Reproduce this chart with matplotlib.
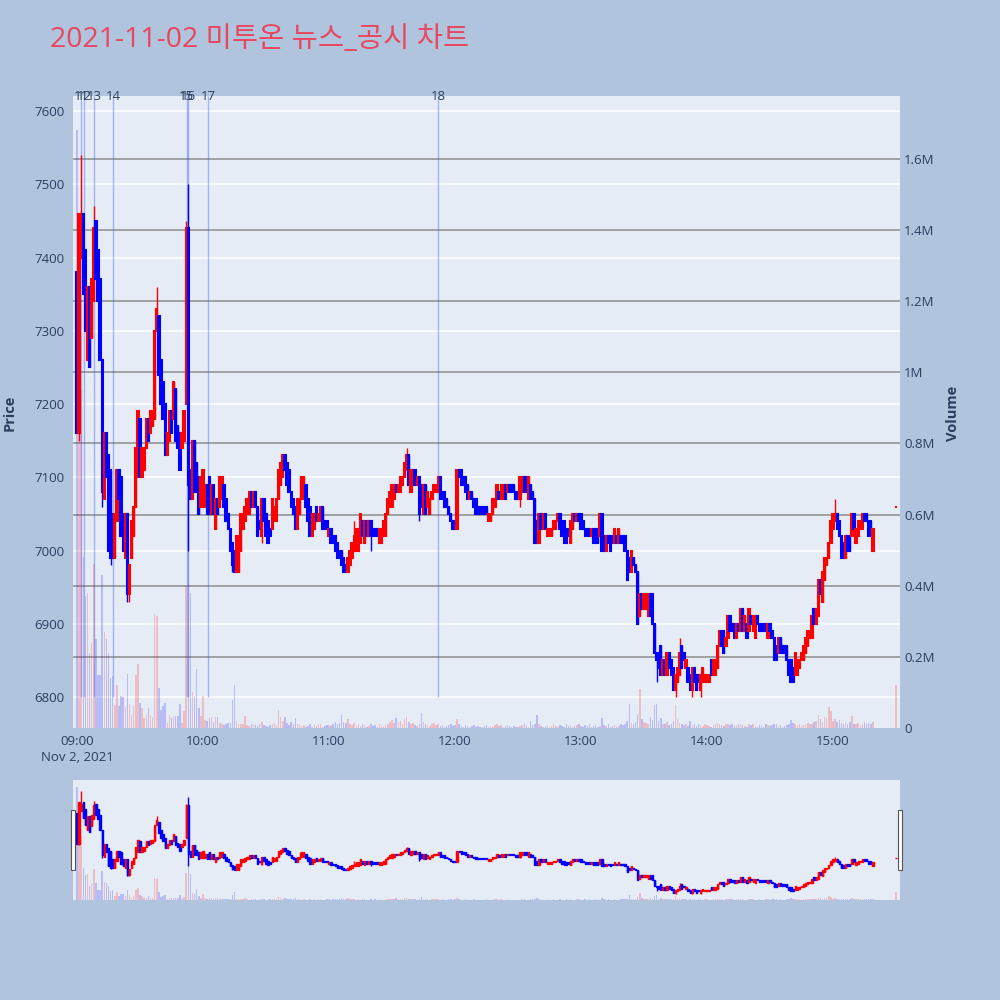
import numpy as np
import matplotlib
matplotlib.use('Agg')
import matplotlib.pyplot as plt
from matplotlib.patches import Rectangle
from matplotlib.transforms import blended_transform_factory

plt.rcParams['font.family'] = ['Open Sans', 'Noto Sans CJK KR', 'DejaVu Sans']

title = '2021-11-02 미투온 뉴스_공시 차트'

# 1-minute candles from 09:00 (one row = 10 minutes)
opens = [
    7380, 7160, 7400, 7460, 7410, 7260, 7360, 7290, 7340, 7450,
    7410, 7370, 7260, 7070, 7160, 7130, 7110, 7050, 6990, 7040,
    7110, 7100, 7050, 6990, 7050, 6940, 6990, 7020, 7060, 7100,
    7180, 7100, 7110, 7140, 7180, 7160, 7170, 7180, 7300, 7320,
    7260, 7230, 7200, 7130, 7150, 7190, 7180, 7220, 7170, 7160,
    7140, 7150, 7200, 7440, 7110, 7070, 7150, 7120, 7100, 7060,
    7060, 7060, 7090, 7100, 7050, 7090, 7030, 7070, 7060, 7070,
    7090, 7070, 7050, 7030, 7010, 7000, 6970, 6970, 7000, 7030,
    7040, 7050, 7050, 7080, 7060, 7080, 7060, 7040, 7020, 7070,
    7050, 7040, 7030, 7030, 7040, 7040, 7070, 7090, 7100, 7130,
    7120, 7110, 7080, 7070, 7060, 7030, 7050, 7070, 7070, 7090,
    7070, 7060, 7020, 7030, 7060, 7040, 7040, 7060, 7040, 7040,
    7020, 7030, 7020, 7020, 7010, 7000, 7000, 6990, 6980, 6970,
    6980, 6990, 7000, 7000, 7000, 7010, 7040, 7010, 7040, 7020,
    7040, 7030, 7030, 7030, 7010, 7010, 7020, 7020, 7050, 7060,
    7060, 7070, 7090, 7080, 7080, 7090, 7100, 7110, 7130, 7080,
    7090, 7110, 7090, 7100, 7090, 7050, 7090, 7060, 7050, 7070,
    7080, 7080, 7080, 7100, 7080, 7080, 7070, 7060, 7050, 7040,
    7040, 7030, 7110, 7110, 7100, 7100, 7090, 7070, 7080, 7070,
    7070, 7060, 7060, 7060, 7060, 7060, 7040, 7040, 7050, 7060,
    7070, 7080, 7070, 7070, 7090, 7080, 7090, 7090, 7090, 7080,
    7080, 7070, 7080, 7100, 7100, 7070, 7090, 7080, 7070, 7040,
    7010, 7050, 7030, 7050, 7020, 7020, 7020, 7030, 7030, 7040,
    7050, 7040, 7040, 7030, 7030, 7010, 7030, 7050, 7040, 7050,
    7050, 7040, 7030, 7030, 7030, 7020, 7030, 7030, 7030, 7020,
    7050, 7020, 7000, 7020, 7020, 7020, 7010, 7020, 7010, 7020,
    7020, 7020, 7000, 6990, 6970, 6990, 6980, 6970, 6910, 6940,
    6920, 6920, 6910, 6940, 6940, 6900, 6860, 6860, 6870, 6830,
    6850, 6830, 6860, 6850, 6840, 6810, 6820, 6830, 6870, 6860,
    6840, 6840, 6830, 6810, 6840, 6830, 6830, 6810, 6820, 6820,
    6820, 6820, 6850, 6830, 6830, 6840, 6870, 6890, 6890, 6870,
    6880, 6910, 6900, 6900, 6880, 6900, 6890, 6920, 6890, 6900,
    6890, 6910, 6890, 6880, 6910, 6900, 6900, 6900, 6900, 6880,
    6900, 6890, 6880, 6870, 6860, 6880, 6870, 6870, 6870, 6850,
    6850, 6840, 6830, 6830, 6840, 6850, 6850, 6860, 6870, 6880,
    6880, 6920, 6900, 6910, 6960, 6930, 6960, 6980, 6990, 7010,
    7030, 7040, 7050, 7040, 7020, 7010, 6990, 7020, 7020, 7020,
    7050, 7010, 7020, 7030, 7030, 7050, 7050, 7040, 7040, 7000,
]
closes = [
    7160, 7460, 7450, 7350, 7300, 7360, 7250, 7370, 7440, 7370,
    7340, 7260, 7080, 7160, 7100, 7000, 6990, 6990, 7050, 7110,
    7070, 7020, 7000, 7050, 6940, 6980, 7040, 7060, 7140, 7190,
    7100, 7140, 7140, 7180, 7150, 7190, 7190, 7300, 7330, 7240,
    7200, 7180, 7130, 7160, 7190, 7160, 7230, 7150, 7140, 7110,
    7160, 7190, 7440, 7090, 7070, 7150, 7080, 7080, 7050, 7100,
    7110, 7090, 7050, 7050, 7090, 7050, 7070, 7050, 7100, 7100,
    7060, 7040, 7030, 7000, 6980, 6970, 7020, 7020, 7050, 7050,
    7060, 7070, 7080, 7060, 7080, 7060, 7020, 7030, 7070, 7040,
    7020, 7010, 7020, 7070, 7060, 7070, 7110, 7120, 7130, 7110,
    7090, 7080, 7060, 7050, 7030, 7070, 7070, 7100, 7100, 7060,
    7040, 7020, 7050, 7050, 7040, 7050, 7060, 7030, 7030, 7030,
    7030, 7010, 7010, 7000, 6990, 6990, 6980, 6970, 6970, 6990,
    7000, 7010, 7020, 7030, 7030, 7050, 7020, 7040, 7020, 7040,
    7020, 7020, 7020, 7020, 7030, 7030, 7040, 7050, 7070, 7080,
    7090, 7090, 7080, 7090, 7100, 7100, 7120, 7130, 7090, 7110,
    7110, 7090, 7100, 7050, 7060, 7090, 7050, 7080, 7070, 7080,
    7090, 7090, 7100, 7070, 7070, 7060, 7060, 7050, 7040, 7030,
    7030, 7110, 7100, 7090, 7090, 7080, 7070, 7080, 7070, 7060,
    7050, 7050, 7050, 7050, 7050, 7050, 7050, 7050, 7070, 7070,
    7090, 7070, 7090, 7090, 7070, 7090, 7080, 7080, 7080, 7070,
    7070, 7100, 7100, 7080, 7080, 7100, 7070, 7070, 7010, 7010,
    7050, 7030, 7050, 7030, 7030, 7030, 7030, 7040, 7040, 7050,
    7030, 7020, 7010, 7010, 7020, 7040, 7050, 7040, 7050, 7040,
    7030, 7030, 7020, 7020, 7020, 7030, 7010, 7010, 7010, 7050,
    7000, 7000, 7020, 7010, 7000, 7010, 7030, 7010, 7030, 7010,
    7010, 7000, 6960, 6970, 7000, 6980, 6970, 6900, 6940, 6920,
    6940, 6940, 6940, 6910, 6900, 6860, 6850, 6840, 6830, 6850,
    6830, 6860, 6840, 6830, 6810, 6830, 6840, 6860, 6840, 6850,
    6850, 6820, 6810, 6840, 6820, 6810, 6820, 6830, 6840, 6830,
    6830, 6830, 6830, 6850, 6850, 6870, 6890, 6870, 6860, 6880,
    6910, 6890, 6890, 6880, 6900, 6890, 6920, 6890, 6910, 6880,
    6920, 6900, 6910, 6910, 6900, 6890, 6890, 6890, 6890, 6900,
    6890, 6880, 6850, 6850, 6880, 6860, 6860, 6860, 6850, 6830,
    6820, 6820, 6860, 6850, 6850, 6860, 6870, 6880, 6890, 6890,
    6910, 6900, 6920, 6960, 6940, 6970, 6990, 6990, 7010, 7040,
    7050, 7050, 7030, 7020, 6990, 6990, 7020, 7000, 7000, 7050,
    7030, 7030, 7040, 7040, 7050, 7040, 7040, 7020, 7020, 7030,
]
# wicks that reach past the body (minute: price)
wick_high = {1: 7460, 2: 7540, 8: 7470, 38: 7360, 52: 7450, 53: 7500, 106: 7100,
             132: 7040, 157: 7140, 287: 6880, 361: 7070}
wick_low = {1: 7150, 12: 7060, 16: 6980, 24: 6930, 25: 6930, 53: 7000, 74: 6970,
            88: 7010, 140: 7000, 163: 7040, 211: 7060, 276: 6820, 285: 6800,
            293: 6800, 297: 6800}
# volume per minute, thousands of shares
volume_k = [
    1680, 1050, 950, 480, 370, 380, 210, 240, 460, 250,
    150, 150, 430, 270, 250, 210, 140, 145, 65, 120,
    62, 90, 88, 60, 152, 68, 36, 62, 149, 180,
    70, 55, 28, 36, 55, 36, 30, 320, 315, 112,
    50, 62, 70, 15, 36, 28, 33, 33, 33, 68,
    15, 47, 400, 500, 380, 100, 90, 165, 55, 33,
    90, 23, 19, 28, 31, 16, 31, 31, 14, 12,
    8, 10, 14, 14, 80, 120, 20, 10, 12, 10,
    33, 8, 6, 10, 12, 8, 5, 10, 18, 9,
    6, 4, 8, 12, 14, 8, 50, 31, 20, 31,
    14, 8, 16, 10, 28, 12, 10, 6, 8, 4,
    6, 10, 4, 8, 6, 12, 10, 4, 6, 8,
    8, 6, 12, 18, 10, 14, 36, 18, 14, 25,
    10, 8, 14, 6, 10, 6, 12, 8, 4, 6,
    10, 6, 8, 4, 12, 6, 4, 8, 10, 16,
    22, 14, 28, 16, 20, 12, 24, 30, 18, 10,
    14, 8, 6, 10, 41, 16, 12, 8, 6, 10,
    14, 8, 10, 6, 8, 4, 6, 8, 10, 6,
    8, 25, 10, 6, 4, 8, 6, 4, 6, 8,
    4, 6, 2, 4, 6, 8, 4, 6, 4, 8,
    10, 6, 8, 4, 6, 8, 6, 4, 6, 2,
    4, 6, 8, 10, 6, 4, 19, 8, 12, 36,
    10, 6, 4, 6, 8, 4, 6, 10, 6, 4,
    8, 6, 4, 10, 6, 8, 4, 6, 8, 10,
    6, 4, 8, 6, 10, 4, 6, 8, 4, 6,
    27, 8, 6, 10, 4, 6, 8, 4, 6, 10,
    8, 12, 20, 68, 14, 10, 16, 40, 110, 24,
    18, 14, 10, 30, 22, 65, 68, 20, 28, 12,
    10, 18, 8, 12, 20, 66, 24, 14, 10, 8,
    12, 6, 19, 8, 10, 6, 12, 8, 6, 10,
    8, 6, 4, 8, 10, 14, 12, 8, 6, 10,
    12, 8, 10, 6, 8, 12, 10, 8, 6, 4,
    10, 8, 12, 6, 4, 8, 6, 4, 10, 8,
    6, 8, 12, 10, 6, 8, 4, 6, 8, 10,
    23, 14, 10, 8, 12, 6, 8, 10, 14, 12,
    10, 16, 20, 36, 24, 18, 30, 28, 60, 47,
    20, 25, 16, 22, 14, 10, 18, 12, 16, 34,
    12, 10, 14, 8, 12, 16, 10, 14, 12, 18,
]
# closing auction at 15:30
auction_time = '15:30'
auction_open, auction_close, auction_volume_k = 7060, 7060, 120

# news / disclosure markers
news_labels = ['11', '12', '13', '14', '15', '16', '17', '18']
news_times = ['09:02:00', '09:03:20', '09:08:10', '09:17:20',
              '09:52:10', '09:52:50', '10:02:30', '11:51:50']

time_ticks = ['09:00', '10:00', '11:00', '12:00', '13:00', '14:00', '15:00']
price_ticks = [6800, 6900, 7000, 7100, 7200, 7300, 7400, 7500, 7600]
volume_ticks = [0, 200000, 400000, 600000, 800000, 1000000, 1200000, 1400000, 1600000]
volume_tick_labels = ['0', '0.2M', '0.4M', '0.6M', '0.8M', '1M', '1.2M', '1.4M', '1.6M']


def to_min(t):
    parts = [int(p) for p in t.split(':')] + [0]
    return (parts[0] - 9) * 60 + parts[1] + parts[2] / 60.0


# arrays incl. the closing auction
xs = np.array(list(range(len(opens))) + [to_min(auction_time)], dtype=float)
o = np.array(opens + [auction_open], dtype=float)
c = np.array(closes + [auction_close], dtype=float)
vol = np.array(volume_k + [auction_volume_k], dtype=float) * 1000
hi = np.maximum(o, c)
lo = np.minimum(o, c)
for k, v in wick_high.items():
    hi[k] = max(hi[k], v)
for k, v in wick_low.items():
    lo[k] = min(lo[k], v)
prev_c = np.concatenate([[c[0]], c[:-1]])
up = (c > o) | ((c == o) & (c > prev_c))
cols = np.where(up, '#ff0000', '#0000ff')
vcols = [(1, 0, 0, 0.2) if u else (0, 0, 1, 0.2) for u in up]

BG = '#b0c4de'
PLOT_BG = '#e5ecf6'
TXT = '#2a3f5f'
XLIM = (-1.9, 391.9)
PLIM = (6757.7, 7620.5)
VLIM = (0, 1777000)

fig = plt.figure(figsize=(10, 10), dpi=100, facecolor=BG)


def draw(ax_v, ax_p, body_lw):
    ax_v.set_facecolor(PLOT_BG)
    ax_p.patch.set_visible(False)
    ax_v.set_xlim(*XLIM)
    ax_v.set_ylim(*VLIM)
    ax_p.set_ylim(*PLIM)
    for a in (ax_v, ax_p):
        for s in a.spines.values():
            s.set_visible(False)
    ax_v.bar(xs, vol, width=0.7, color=vcols, linewidth=0, zorder=1)
    ax_p.vlines(xs, lo, hi, colors=cols, lw=1.0, zorder=2.5)
    ax_p.bar(xs, c - o, bottom=o, width=0.6, color=cols, edgecolor=cols,
             linewidth=body_lw, zorder=3)


# main chart: volume axes underneath, price axes (twin) on top
ax_vol = fig.add_axes([0.073, 0.272, 0.827, 0.632])
ax_price = ax_vol.twinx()
draw(ax_vol, ax_price, 1.5)

# price grid (white) and volume grid (gray), both under the bars
ptrans = blended_transform_factory(ax_vol.transAxes, ax_price.transData)
for p in price_ticks:
    ax_vol.plot([0, 1], [p, p], transform=ptrans, color='white', lw=1.1, zorder=0.2)
for v in volume_ticks[1:]:
    ax_vol.axhline(v, color='#8c8c8c', lw=1.1, zorder=0.5)

ax_price.yaxis.tick_left()
ax_vol.yaxis.tick_right()
ax_price.set_yticks(price_ticks)
ax_price.set_yticklabels([str(p) for p in price_ticks])
ax_vol.set_yticks(volume_ticks)
ax_vol.set_yticklabels(volume_tick_labels)
ax_price.tick_params(axis='y', length=0, pad=6, labelsize=9.5, labelcolor=TXT)
ax_vol.tick_params(axis='y', length=0, pad=3, labelsize=9.5, labelcolor=TXT)
tick_pos = [to_min(t) for t in time_ticks]
ax_vol.set_xticks(tick_pos)
ax_vol.set_xticklabels([time_ticks[0] + '\nNov 2, 2021'] + time_ticks[1:])
ax_vol.tick_params(axis='x', length=0, pad=5, labelsize=9.5, labelcolor=TXT)
for lab in ax_vol.get_xticklabels():
    lab.set_linespacing(1.35)
    lab.set_verticalalignment('top')

# news markers (labels sit right on the top edge, as in the source)
ntrans = blended_transform_factory(ax_price.transData, ax_price.transAxes)
for lab, t in zip(news_labels, news_times):
    m = to_min(t)
    ax_price.vlines(m, 6800, PLIM[1], colors=[(0.25, 0.35, 0.95, 0.4)], lw=1.0, zorder=2)
    ax_price.text(m, 0.999, lab, transform=ntrans, ha='center', va='center',
                  fontsize=9.5, color=TXT, clip_on=False, zorder=5)

# range slider
ax_svol = fig.add_axes([0.073, 0.100, 0.827, 0.120])
ax_sprice = ax_svol.twinx()
draw(ax_svol, ax_sprice, 1.0)
for a in (ax_svol, ax_sprice):
    a.set_xticks([])
    a.set_yticks([])
for xc in (0.073, 0.900):
    fig.patches.append(Rectangle((xc - 0.002, 0.130), 0.004, 0.060,
                                 transform=fig.transFigure, facecolor='white',
                                 edgecolor='#555555', lw=0.8, zorder=10))

# titles
fig.text(0.050, 0.960, title, fontsize=20.5, color='#e9475f', ha='left', va='center',
         family=['Open Sans', 'Noto Sans CJK KR', 'DejaVu Sans'])
fig.text(0.010, 0.587, 'Price', rotation=90, ha='center', va='center',
         fontsize=10.5, fontweight='bold', color=TXT)
fig.text(0.953, 0.587, 'Volume', rotation=90, ha='center', va='center',
         fontsize=10.5, fontweight='bold', color=TXT)

fig.savefig('out.png', dpi=100, facecolor=BG)
